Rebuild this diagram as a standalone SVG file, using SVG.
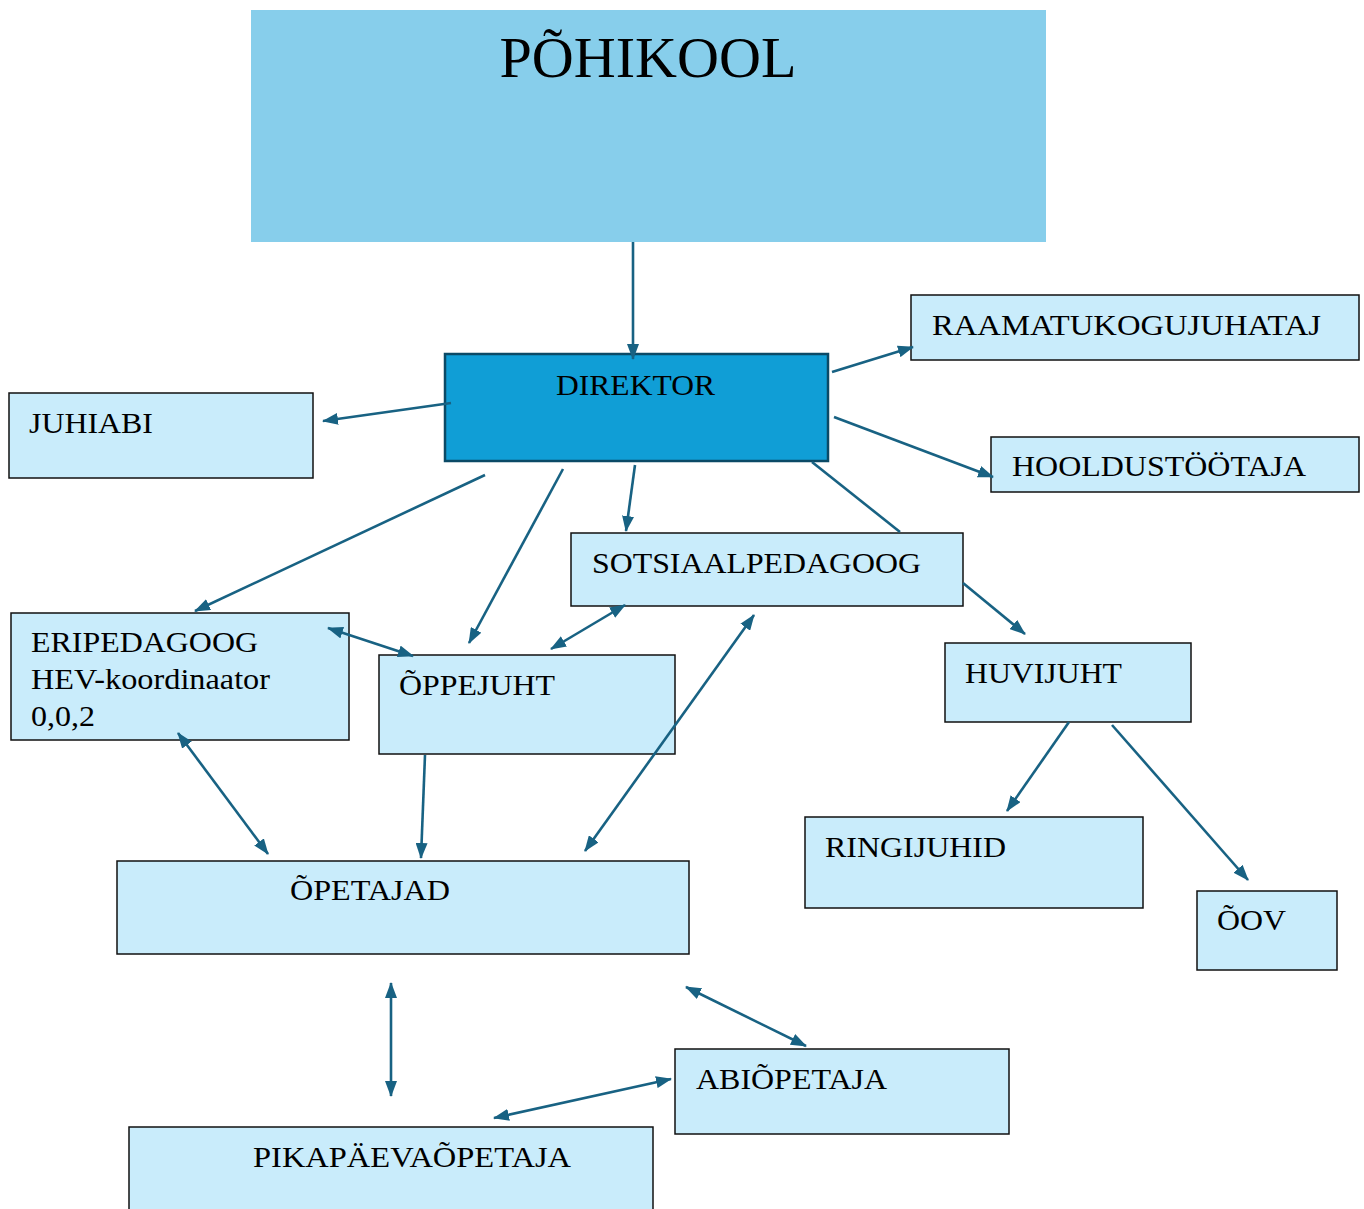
<svg xmlns="http://www.w3.org/2000/svg" width="1364" height="1209" viewBox="0 0 1364 1209">
<style>
.box{fill:#C9ECFB;stroke:#111;stroke-width:1.5}
.t{font-family:"Liberation Serif","Times New Roman",serif;font-size:30px;fill:#000}
.c line{stroke:#186283;stroke-width:2.6;fill:none}
.a{marker-end:url(#ah)}
.d{marker-start:url(#ah);marker-end:url(#ah)}
</style>
<defs>
<marker id="ah" markerUnits="userSpaceOnUse" markerWidth="16" markerHeight="12" viewBox="0 0 16 12" refX="15" refY="6" orient="auto-start-reverse">
<path d="M0,0 L16,6 L0,12 z" fill="#186283"/>
</marker>
</defs>
<rect width="1364" height="1209" fill="#fff"/>
<g id="pohikool">
<rect x="251" y="10" width="795" height="232" fill="#87CEEB"/>
<text class="t" x="648" y="77" text-anchor="middle" style="font-size:58px" textLength="297" lengthAdjust="spacingAndGlyphs">PÕHIKOOL</text>
</g>
<g id="direktor">
<rect x="445" y="354" width="383" height="107" fill="#109ED6" stroke="#0B4A66" stroke-width="2.5"/>
<text class="t" x="556" y="395" textLength="159" lengthAdjust="spacingAndGlyphs">DIREKTOR</text>
</g>
<g id="juhiabi">
<rect class="box" x="9" y="393" width="304" height="85"/>
<text class="t" x="29" y="433" textLength="124" lengthAdjust="spacingAndGlyphs">JUHIABI</text>
</g>
<g id="raamatukogu">
<rect class="box" x="911" y="295" width="448" height="65"/>
<text class="t" x="932" y="335" textLength="389" lengthAdjust="spacingAndGlyphs">RAAMATUKOGUJUHATAJ</text>
</g>
<g id="hooldus">
<rect class="box" x="991" y="437" width="368" height="55"/>
<text class="t" x="1012" y="476" textLength="294" lengthAdjust="spacingAndGlyphs">HOOLDUSTÖÖTAJA</text>
</g>
<g id="sotsiaal">
<rect class="box" x="571" y="533" width="392" height="73"/>
<text class="t" x="592" y="573" textLength="329" lengthAdjust="spacingAndGlyphs">SOTSIAALPEDAGOOG</text>
</g>
<g id="eripedagoog">
<rect class="box" x="11" y="613" width="338" height="127"/>
<text class="t" x="31" y="652" textLength="227" lengthAdjust="spacingAndGlyphs">ERIPEDAGOOG</text>
<text class="t" x="31" y="689" textLength="239" lengthAdjust="spacingAndGlyphs">HEV-koordinaator</text>
<text class="t" x="31" y="726" textLength="64" lengthAdjust="spacingAndGlyphs">0,0,2</text>
</g>
<g id="oppejuht">
<rect class="box" x="379" y="655" width="296" height="99"/>
<text class="t" x="399" y="695" textLength="156" lengthAdjust="spacingAndGlyphs">ÕPPEJUHT</text>
</g>
<g id="huvijuht">
<rect class="box" x="945" y="643" width="246" height="79"/>
<text class="t" x="965" y="683" textLength="157" lengthAdjust="spacingAndGlyphs">HUVIJUHT</text>
</g>
<g id="ringijuhid">
<rect class="box" x="805" y="817" width="338" height="91"/>
<text class="t" x="825" y="857" textLength="181" lengthAdjust="spacingAndGlyphs">RINGIJUHID</text>
</g>
<g id="oov">
<rect class="box" x="1197" y="891" width="140" height="79"/>
<text class="t" x="1217" y="930" textLength="69" lengthAdjust="spacingAndGlyphs">ÕOV</text>
</g>
<g id="opetajad">
<rect class="box" x="117" y="861" width="572" height="93"/>
<text class="t" x="290" y="900" textLength="160" lengthAdjust="spacingAndGlyphs">ÕPETAJAD</text>
</g>
<g id="abiopetaja">
<rect class="box" x="675" y="1049" width="334" height="85"/>
<text class="t" x="696" y="1089" textLength="191" lengthAdjust="spacingAndGlyphs">ABIÕPETAJA</text>
</g>
<g id="pikapaeva">
<rect class="box" x="129" y="1127" width="524" height="90"/>
<text class="t" x="253" y="1167" textLength="318" lengthAdjust="spacingAndGlyphs">PIKAPÄEVAÕPETAJA</text>
</g>
<g id="connectors" class="c">
<line class="a" x1="633" y1="242" x2="633" y2="359"/>
<line class="a" x1="451" y1="403" x2="323" y2="421"/>
<line class="a" x1="832" y1="372" x2="913" y2="347"/>
<line class="a" x1="834" y1="417" x2="993" y2="477"/>
<line class="a" x1="485" y1="475" x2="195" y2="611"/>
<line class="a" x1="563" y1="469" x2="469" y2="643"/>
<line class="a" x1="635" y1="465" x2="626" y2="531"/>
<line x1="812" y1="462" x2="900" y2="532"/>
<line class="a" x1="963" y1="583" x2="1025" y2="634"/>
<line class="d" x1="328" y1="628" x2="413" y2="656"/>
<line class="d" x1="551" y1="649" x2="625" y2="605"/>
<line class="d" x1="585" y1="851" x2="754" y2="615"/>
<line class="d" x1="178" y1="733" x2="268" y2="854"/>
<line class="a" x1="425" y1="755" x2="421" y2="858"/>
<line class="a" x1="1069" y1="722" x2="1007" y2="811"/>
<line class="a" x1="1112" y1="725" x2="1248" y2="880"/>
<line class="d" x1="391" y1="983" x2="391" y2="1096"/>
<line class="d" x1="686" y1="987" x2="806" y2="1046"/>
<line class="d" x1="671" y1="1079" x2="494" y2="1118"/>
</g>
</svg>
